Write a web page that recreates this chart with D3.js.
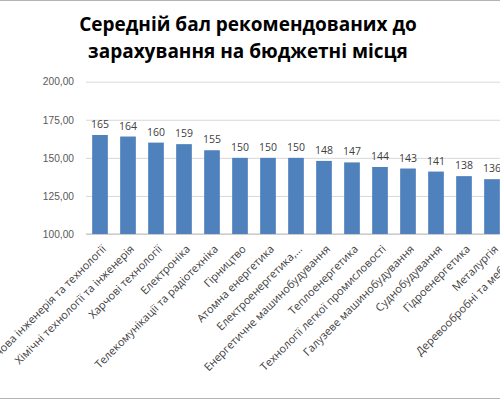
<!DOCTYPE html>
<html>
<head>
<meta charset="utf-8">
<script src="https://cdn.jsdelivr.net/npm/d3@7"></script>
<style>
  body { margin: 0; background: #fff; }
  svg { display: block; font-family: "Open Sans", "Noto Sans", sans-serif; }
</style>
</head>
<body>
<svg id="chart" width="500" height="400"></svg>
<script>
var titleLines = ["Середній бал рекомендованих до", "зарахування на бюджетні місця"];

var categories = [
  "Харчова інженерія та технології",
  "Хімічні технології та інженерія",
  "Харчові технології",
  "Електроніка",
  "Телекомунікації та радіотехніка",
  "Гірництво",
  "Атомна енергетика",
  "Електроенергетика,…",
  "Енергетичне машинобудування",
  "Теплоенергетика",
  "Технології легкої промисловості",
  "Галузеве машинобудування",
  "Суднобудування",
  "Гідроенергетика",
  "Металургія",
  "Деревообробні та меблеві…"
];
var values = [165, 164, 160, 159, 155, 150, 150, 150, 148, 147, 144, 143, 141, 138, 136];
var yTicks = [100, 125, 150, 175, 200];

var svg = d3.select("#chart");

// frame (right side runs off the picture)
svg.append("rect")
    .attr("x", -5).attr("y", 0.5)
    .attr("width", 600).attr("height", 398)
    .attr("fill", "#fff")
    .attr("stroke", "#b3b3b3");

var x = d3.scaleBand()
    .domain(categories)
    .range([86, 86 + 28 * categories.length])
    .paddingInner(0.44)
    .paddingOuter(0.22);

var y = d3.scaleLinear()
    .domain([100, 200])
    .range([234, 81.7]);

// gridlines + y labels
var yAxis = d3.axisLeft(y)
    .tickValues(yTicks)
    .tickSize(-(600))
    .tickFormat(function(d){ return d3.format(".2f")(d).replace(".", ","); });

var gy = svg.append("g")
    .attr("transform", "translate(86,0)")
    .call(yAxis);
gy.select(".domain").remove();
gy.selectAll(".tick line").attr("stroke", "#d9d9d9");
gy.selectAll(".tick text")
    .attr("x", -12)
    .attr("fill", "#595959")
    .style("font-size", "10.2px");

// bottom axis line
svg.append("line")
    .attr("x1", 86).attr("x2", 600)
    .attr("y1", y(100)).attr("y2", y(100))
    .attr("stroke", "#bfbfbf");

var data = values.map(function(v, i){ return {name: categories[i], value: v}; });

svg.selectAll("rect.bar")
    .data(data)
    .enter().append("rect")
    .attr("class", "bar")
    .attr("x", function(d){ return x(d.name); })
    .attr("width", x.bandwidth())
    .attr("y", function(d){ return y(d.value); })
    .attr("height", function(d){ return y(100) - y(d.value); })
    .attr("fill", "#4f81bd");

svg.selectAll("text.val")
    .data(data)
    .enter().append("text")
    .attr("class", "val")
    .attr("x", function(d){ return x(d.name) + x.bandwidth() / 2; })
    .attr("y", function(d){ return y(d.value) - 7; })
    .attr("text-anchor", "middle")
    .attr("fill", "#404040")
    .style("font-size", "10.5px")
    .text(function(d){ return d.value; });

// category labels, rotated
svg.selectAll("text.cat")
    .data(categories)
    .enter().append("text")
    .attr("class", "cat")
    .attr("transform", function(d){
      return "translate(" + (x(d) + x.bandwidth() / 2 + 4) + "," + 247 + ") rotate(-45)";
    })
    .attr("text-anchor", "end")
    .attr("dy", "0.35em")
    .attr("fill", "#404040")
    .style("font-size", "11px")
    .text(function(d){ return d; });

// title
svg.selectAll("text.title")
    .data(titleLines)
    .enter().append("text")
    .attr("class", "title")
    .attr("x", 248)
    .attr("y", function(d, i){ return 31 + i * 27; })
    .attr("text-anchor", "middle")
    .attr("fill", "#000")
    .style("font-size", "19px")
    .style("font-weight", "bold")
    .text(function(d){ return d; });
</script>
</body>
</html>
